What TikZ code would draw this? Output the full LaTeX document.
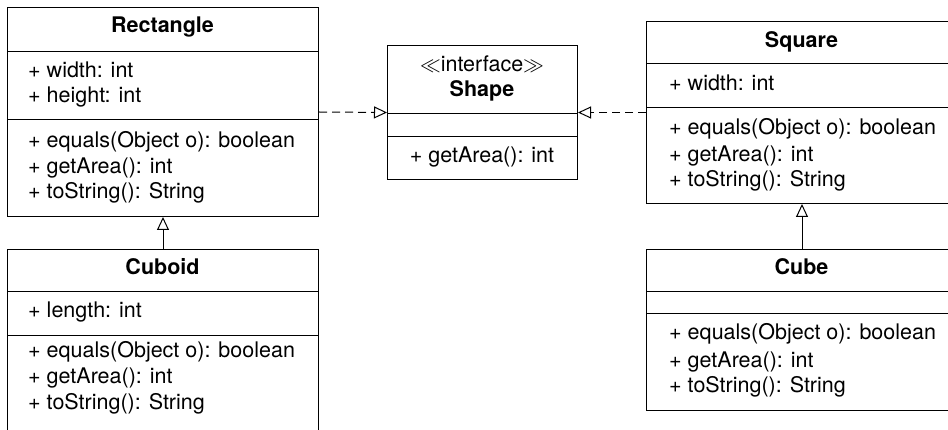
\documentclass[tikz,border=0pt]{standalone}
\usepackage{fontspec}
\setmainfont{TeX Gyre Heros}
\usetikzlibrary{arrows.meta}
\begin{document}
\begin{tikzpicture}[x=1pt,y=-1pt,
  box/.style={draw, line width=1pt, inner sep=0pt, anchor=north west},
  mem/.style={anchor=base west, inner sep=0pt, font=\fontsize{21.5}{26}\selectfont},
  ttl/.style={anchor=base, inner sep=0pt, font=\fontsize{21.5}{26}\selectfont\bfseries},
  ctr/.style={anchor=base, inner sep=0pt, font=\fontsize{21.5}{26}\selectfont},
  sep/.style={line width=1pt},
  gen/.style={line width=1pt, -{Triangle[open, length=13pt, width=12pt]}},
  realz/.style={gen, dash pattern=on 8pt off 5pt}]
\clip (0,0) rectangle (948,430);
\fill[white] (0,0) rectangle (948,430);
% Rectangle
\node[box, minimum width=311, minimum height=209] (rect) at (7,7) {};
\draw[sep] (rect.west |- 0,52) -- (rect.east |- 0,52);
\draw[sep] (rect.west |- 0,120) -- (rect.east |- 0,120);
\node[ttl] (rectT) at (162.5,33) {Rectangle};
\node[mem] (rectA1) at (28,78) {+ width: int};
\node[mem] (rectA2) at (28,103) {+ height: int};
\node[mem] (rectM1) at (28,148) {+ equals(Object o): boolean};
\node[mem] (rectM2) at (28,174) {+ getArea(): int};
\node[mem] (rectM3) at (28,199) {+ toString(): String};
% Cuboid
\node[box, minimum width=311, minimum height=201] (cuboid) at (7,249) {};
\draw[sep] (cuboid.west |- 0,292) -- (cuboid.east |- 0,292);
\draw[sep] (cuboid.west |- 0,336) -- (cuboid.east |- 0,336);
\node[ttl] (cuboidT) at (162.5,275) {Cuboid};
\node[mem] (cuboidA1) at (28,318) {+ length: int};
\node[mem] (cuboidM1) at (28,357) {+ equals(Object o): boolean};
\node[mem] (cuboidM2) at (28,383) {+ getArea(): int};
\node[mem] (cuboidM3) at (28,409) {+ toString(): String};
% Shape
\node[box, minimum width=190, minimum height=134] (shape) at (387,45) {};
\draw[sep] (shape.west |- 0,114) -- (shape.east |- 0,114);
\draw[sep] (shape.west |- 0,137) -- (shape.east |- 0,137);
\node[ctr] (shapeS) at (482,72) {$\ll$interface$\gg$};
\node[ttl] (shapeT) at (482,97) {Shape};
\node[ctr] (shapeM1) at (482,163) {+ getArea(): int};
% Square
\node[box, minimum width=311, minimum height=182] (square) at (646,21) {};
\draw[sep] (square.west |- 0,64) -- (square.east |- 0,64);
\draw[sep] (square.west |- 0,108) -- (square.east |- 0,108);
\node[ttl] (squareT) at (801.5,48) {Square};
\node[mem] (squareA1) at (669,91) {+ width: int};
\node[mem] (squareM1) at (669,135) {+ equals(Object o): boolean};
\node[mem] (squareM2) at (669,162) {+ getArea(): int};
\node[mem] (squareM3) at (669,187) {+ toString(): String};
% Cube
\node[box, minimum width=311, minimum height=161] (cube) at (646,249) {};
\draw[sep] (cube.west |- 0,292) -- (cube.east |- 0,292);
\draw[sep] (cube.west |- 0,314) -- (cube.east |- 0,314);
\node[ttl] (cubeT) at (801.5,275) {Cube};
\node[mem] (cubeM1) at (669,340) {+ equals(Object o): boolean};
\node[mem] (cubeM2) at (669,367) {+ getArea(): int};
\node[mem] (cubeM3) at (669,392) {+ toString(): String};
% connectors
\draw[realz] (rect.east) -- (shape.west);
\draw[realz] (square.west) -- (shape.east);
\draw[gen] (cuboid.north) -- (rect.south);
\draw[gen] (cube.north) -- (square.south);
\end{tikzpicture}
\end{document}
